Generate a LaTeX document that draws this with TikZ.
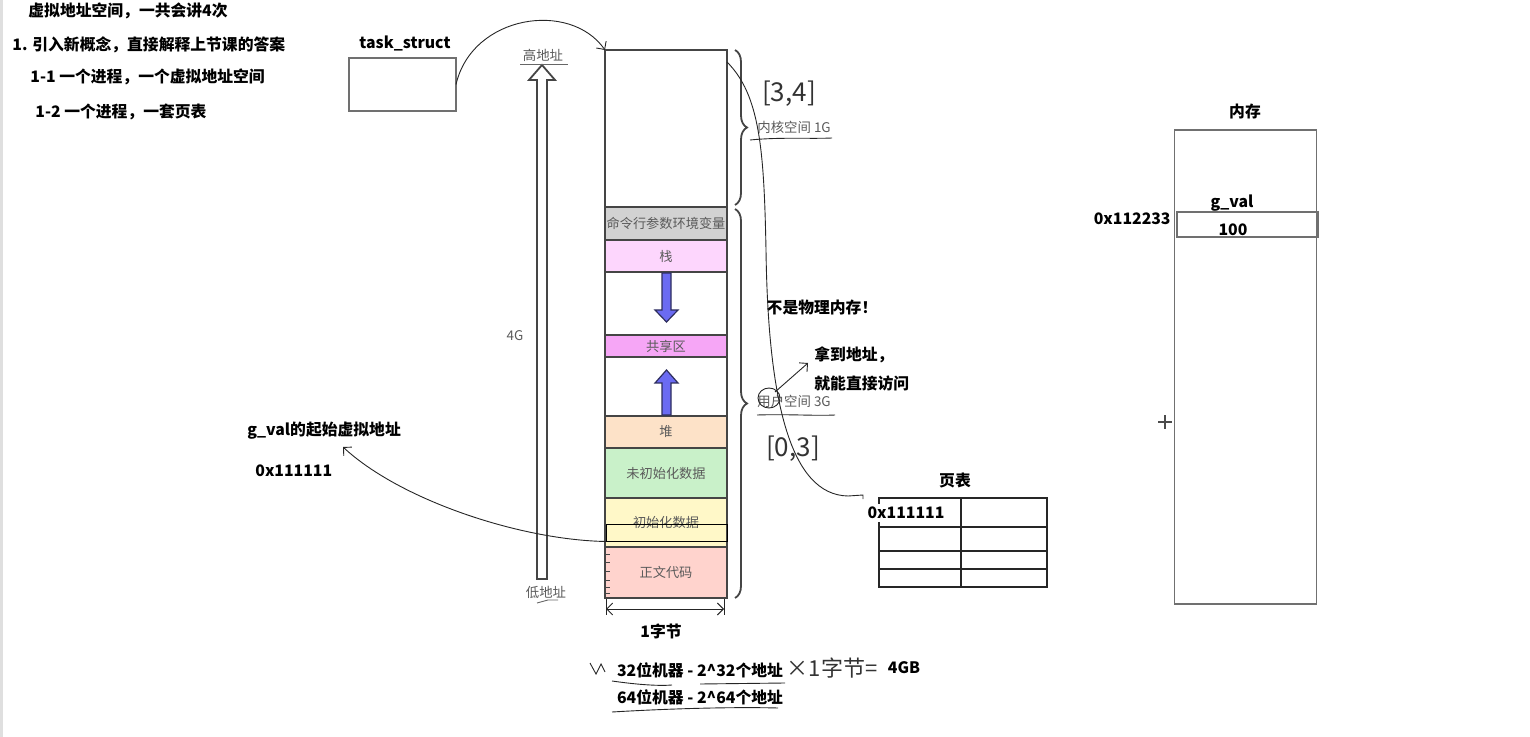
\documentclass[tikz,border=0pt]{standalone}
\usepackage{fontspec}
\setmainfont{Noto Sans CJK SC}
\usepackage{tikz}
\usetikzlibrary{arrows.meta,positioning,decorations.pathreplacing}

\definecolor{segline}{HTML}{454545}
\definecolor{labelgray}{HTML}{5A5A5A}
\definecolor{boxgray}{HTML}{707070}
\definecolor{cmdgray}{HTML}{D2D2D2}
\definecolor{stackpink}{HTML}{FDD6FD}
\definecolor{sharedpink}{HTML}{F6A6F6}
\definecolor{heappeach}{HTML}{FDE2C8}
\definecolor{bssgreen}{HTML}{C9F1C9}
\definecolor{datayellow}{HTML}{FFF8C8}
\definecolor{textsalmon}{HTML}{FFD3CD}
\definecolor{arrowblue}{HTML}{6B6BF2}
\definecolor{arrowedge}{HTML}{2E2E5E}

\begin{document}
\begin{tikzpicture}[
    x=0.5pt, y=-0.5pt,
    boldtext/.style={font=\bfseries\fontsize{7.9}{9}\selectfont, inner sep=0pt},
    graytext/.style={font=\fontsize{6.7}{8}\selectfont, text=labelgray, inner sep=0pt},
    handtext/.style={font=\fontsize{13}{14}\selectfont, text=black!80, inner sep=0pt},
    seg/.style={draw=segline, line width=1pt, minimum width=61pt, inner sep=0pt, outer sep=0pt,
        font=\fontsize{6.6}{8}\selectfont, text=labelgray},
    thinbox/.style={draw=boxgray, line width=0.6pt, inner sep=0pt, outer sep=0pt},
    hand/.style={draw=black!85, line width=0.45pt},
    brace/.style={decorate, decoration={brace, amplitude=6pt}, draw=segline, line width=0.9pt},
    blockarrow/.style={draw=arrowedge, fill=arrowblue, line width=0.6pt},
    >={Straight Barb[length=3pt]}
]
\useasboundingbox (0,0) rectangle (1530,737);
\draw[gray!25, line width=1.5pt] (1.5,0) -- (1.5,737);

% notes top left
\node[boldtext, anchor=west] (topic) at (28,11) {虚拟地址空间，一共会讲4次};
\node[boldtext, anchor=west] (point1) at (12,45) {1. 引入新概念，直接解释上节课的答案};
\node[boldtext, anchor=west] (point11) at (30,77) {1-1 一个进程，一个虚拟地址空间};
\node[boldtext, anchor=west] (point12) at (35,112) {1-2 一个进程，一套页表};

% task_struct
\node[boldtext] (tasklbl) at (405,43) {task\_struct};
\node[thinbox, minimum width=53.5pt, minimum height=26.5pt] (task) at (402.5,84.5) {};

% address arrow
\draw[draw=segline, line width=0.9pt, fill=white]
    (537,579) -- (537,80) -- (529,80) -- (542,65) -- (555,80) -- (547,80) -- (547,579) -- cycle;
\node[graytext] (highaddr) at (543,55) {高地址};
\node[graytext] (lowaddr) at (546,592) {低地址};
\node[graytext] (size4g) at (515,336) {4G};
\draw[hand, draw=black!60] (520,64) -- (568,64);
\draw[hand, draw=black!60] (537,603) -- (548,600) -- (558,600);

% virtual address space
\node[seg, minimum height=78.5pt] (kernel) at (666,128.5) {};
\node[seg, fill=cmdgray, minimum height=16.5pt, below=0pt of kernel] (cmdenv) {命令行参数环境变量};
\node[seg, fill=stackpink, minimum height=16pt, below=0pt of cmdenv] (stack) {栈};
\node[seg, minimum height=31.5pt, below=0pt of stack] (gapA) {};
\node[seg, fill=sharedpink, minimum height=11pt, below=0pt of gapA] (shared) {共享区};
\node[seg, minimum height=29.5pt, below=0pt of shared] (gapB) {};
\node[seg, fill=heappeach, minimum height=16pt, below=0pt of gapB] (heap) {堆};
\node[seg, fill=bssgreen, minimum height=25pt, below=0pt of heap] (bss) {未初始化数据};
\node[seg, fill=datayellow, minimum height=24.5pt, below=0pt of bss] (data) {初始化数据};
\node[seg, fill=textsalmon, minimum height=25.5pt, below=0pt of data] (textseg) {正文代码};
\node[draw=black, line width=0.5pt, minimum width=60.5pt, minimum height=8.5pt, inner sep=0pt, outer sep=0pt]
    (gslotv) at (666.5,533) {};
\foreach \ty in {554,562,571,580,587,593}
    \draw[segline, line width=0.5pt] (606,\ty) -- (610,\ty);

\draw[blockarrow] (662,273) -- (662,310) -- (655,310) -- (666.5,322) -- (678,310) -- (671,310) -- (671,273) -- cycle;
\draw[blockarrow] (662,415) -- (662,383) -- (655,383) -- (666.5,370) -- (678,383) -- (671,383) -- (671,415) -- cycle;

% braces
\draw[brace] ([xshift=4pt]kernel.north east) -- ([xshift=4pt, yshift=1pt]kernel.south east);
\draw[brace] ([xshift=4pt, yshift=-1pt]cmdenv.north east) -- ([xshift=4pt]textseg.south east);
\node[graytext, anchor=west] (kernlbl) at (757,127) {内核空间 1G};
\node[graytext, anchor=west] (userlbl) at (757,401) {用户空间 3G};
\draw[hand] (750,140) .. controls (780,137) and (810,139) .. (832,138);
\draw[hand] (757,415) .. controls (790,414) and (815,416) .. (835,415);
\node[handtext] (kernrange) at (789,94) {[3,4]};
\node[handtext] (userrange) at (793,449) {[0,3]};

% width
\coordinate (wl) at (606,609);
\coordinate (wr) at (724,609);
\draw[hand] (606,599) -- (606,615);
\draw[hand] (724,599) -- (724,615);
\draw[hand, <->] (wl) -- (wr);
\node[boldtext] (bytelbl) at (661,631) {1字节};

% notes
\node[boldtext] (notphys) at (822,308) {不是物理内存！};
\node[boldtext, anchor=west] (gotaddr) at (814,355) {拿到地址，};
\node[boldtext, anchor=west] (direct) at (814,383) {就能直接访问};
\draw[hand] (769,398) ellipse (11 and 10);
\draw[hand, ->] (775,392) -- (808,363);

\node[boldtext, anchor=west] (gvlbl) at (247,431) {g\_val的起始虚拟地址};
\node[boldtext, anchor=west] (gvaddr) at (255,471) {0x111111};
\coordinate (gvtip) at (343,447);
\draw[hand, ->] (gslotv.south west) .. controls (520,540) and (400,500) .. (gvtip);

% page table
\node[boldtext] (ptlbl) at (955,481) {页表};
\node[thinbox, draw=black!85, minimum width=84pt, minimum height=44.5pt] (pagetable) at (963,542.5) {};
\draw[black!85, line width=0.6pt] (961,498) -- (961,587);
\draw[black!85, line width=0.6pt] (879,527) -- (1047,527);
\draw[black!85, line width=0.6pt] (879,551) -- (1048,551);
\draw[black!85, line width=0.6pt] (879,569) -- (1047,569);
\node[boldtext, fill=white, inner sep=1.5pt] (ptaddr) at (906,513) {0x111111};

\draw[hand, ->] (task.east) .. controls (472,15) and (570,0) .. (kernel.north west);
\draw[hand] ([yshift=-6pt]kernel.north east) .. controls (760,95) and (764,150) .. (766,250)
    .. controls (768,400) and (790,495) .. (848,496) -- (863,495) -- (863,499);

% physical memory
\node[boldtext] (ramlbl) at (1245,112) {内存};
\node[thinbox, minimum width=71pt, minimum height=237pt] (ram) at (1245.5,367) {};
\node[thinbox, minimum width=70.5pt, minimum height=12.5pt] (gslot) at (1247.5,224.5) {};
\node[boldtext] (gname) at (1232,203) {g\_val};
\node[boldtext] (gvalue) at (1233,230) {100};
\node[boldtext, anchor=east] (physaddr) at (1171,219) {0x112233};
\draw[black!70, line width=0.6pt] (1158,422) -- (1172,422) (1165,415) -- (1165,429);

% bottom
\node[boldtext] (bits32) at (700,670) {32位机器 - 2\^{}32个地址};
\node[boldtext] (bits64) at (700,697) {64位机器 - 2\^{}64个地址};
\node[font=\fontsize{11}{12}\selectfont, text=black!80, inner sep=0pt] (times) at (832,668) {×1字节=};
\node[boldtext] (total) at (904,668) {4GB};
\draw[hand] (590,663) -- (596,674) -- (601,664) -- (605,672);
\draw[hand] (612,681) .. controls (640,685) and (660,686) .. (672,685);
\draw[hand] (700,684) -- (785,683);
\draw[hand] (612,712) .. controls (680,708) and (740,707) .. (778,708);
\end{tikzpicture}
\end{document}
